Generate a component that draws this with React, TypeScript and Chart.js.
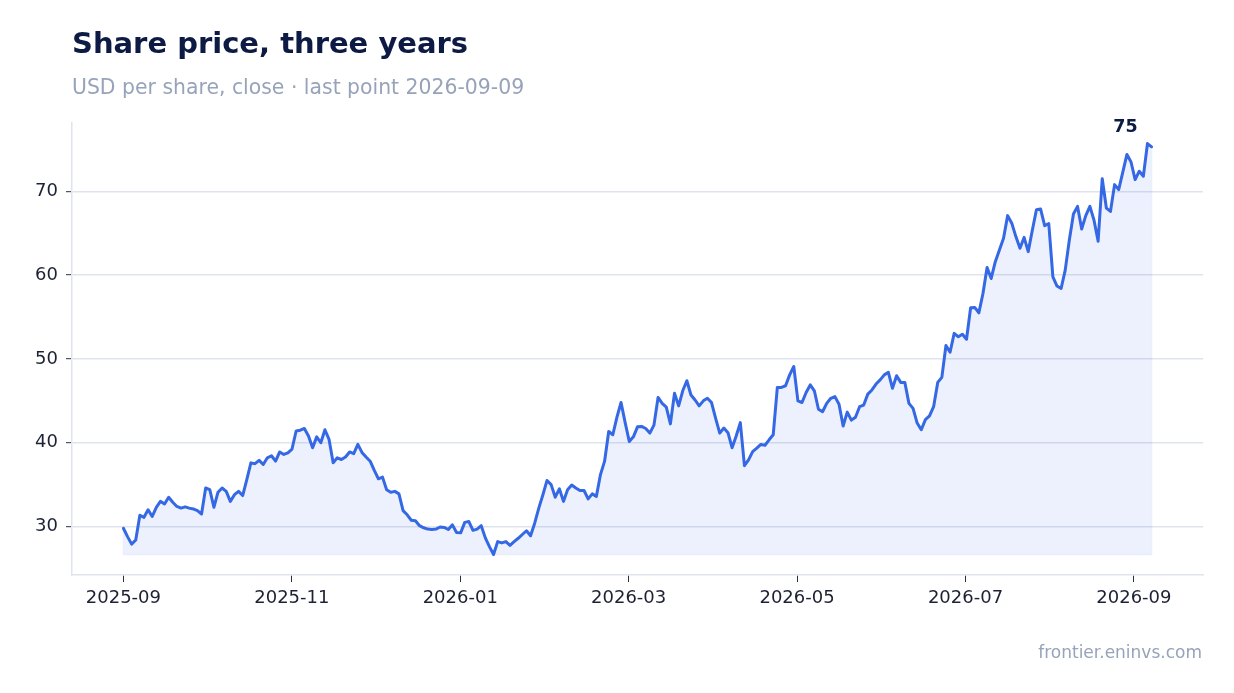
import React, { useEffect, useRef } from 'react';
import { Chart, ChartOptions, Plugin, registerables } from 'chart.js';

Chart.register(...registerables);

const TITLE = 'Share price, three years';
const SUBTITLE = 'USD per share, close · last point 2026-09-09';
const SOURCE = 'frontier.eninvs.com';

/* Подписи оси X, через каждые два месяца */
const X_TICK_LABELS = ['2025-09', '2025-11', '2026-01', '2026-03', '2026-05', '2026-07', '2026-09'];
/* Деления оси Y */
const Y_TICKS = [30, 40, 50, 60, 70];
/* Сколько месяцев от первой до последней точки (от 2025-09) */
const MONTHS_COVERED = 12.21;

/* Цены закрытия, USD за акцию */
const PRICES = [
    29.8, 28.8, 27.9, 28.4, 31.35, 31.1, 32.0, 31.2, 32.3, 33.0,
    32.7, 33.5, 32.9, 32.4, 32.2, 32.35, 32.2, 32.1, 31.9, 31.5,
    34.6, 34.4, 32.3, 34.1, 34.6, 34.2, 33.0, 33.8, 34.2, 33.7,
    35.6, 37.6, 37.5, 37.9, 37.4, 38.2, 38.45, 37.8, 38.9, 38.6,
    38.8, 39.25, 41.4, 41.5, 41.7, 40.8, 39.4, 40.7, 40.0, 41.55,
    40.4, 37.6, 38.2, 38.0, 38.3, 38.9, 38.7, 39.8, 38.85, 38.3,
    37.8, 36.7, 35.7, 35.9, 34.4, 34.1, 34.2, 33.9, 31.9, 31.4,
    30.75, 30.7, 30.1, 29.85, 29.7, 29.65, 29.7, 29.95, 29.9, 29.65,
    30.2, 29.3, 29.25, 30.5, 30.6, 29.55, 29.7, 30.1, 28.65, 27.6,
    26.67, 28.2, 28.05, 28.2, 27.75, 28.2, 28.6, 29.05, 29.5, 28.9,
    30.4, 32.2, 33.8, 35.5, 35.0, 33.5, 34.5, 33.0, 34.4, 34.96,
    34.6, 34.3, 34.3, 33.3, 33.9, 33.6, 36.2, 37.8, 41.35, 40.95,
    43.05, 44.8, 42.4, 40.15, 40.7, 41.9, 41.95, 41.7, 41.15, 42.1,
    45.4, 44.7, 44.25, 42.25, 45.9, 44.4, 46.2, 47.4, 45.7, 45.1,
    44.4, 45.0, 45.3, 44.8, 42.9, 41.15, 41.75, 41.2, 39.4, 40.8,
    42.4, 37.26, 37.95, 38.95, 39.35, 39.8, 39.7, 40.35, 40.95, 46.6,
    46.6, 46.8, 48.1, 49.1, 45.0, 44.8, 46.0, 46.9, 46.2, 44.0,
    43.7, 44.7, 45.3, 45.5, 44.6, 42.0, 43.65, 42.7, 43.05, 44.3,
    44.5, 45.8, 46.3, 47.0, 47.5, 48.1, 48.4, 46.5, 48.0, 47.2,
    47.2, 44.7, 44.1, 42.35, 41.55, 42.75, 43.2, 44.3, 47.2, 47.8,
    51.6, 50.8, 53.05, 52.65, 52.95, 52.35, 56.1, 56.15, 55.5, 57.8,
    60.9, 59.6, 61.6, 63.0, 64.4, 67.1, 66.2, 64.6, 63.2, 64.5,
    62.8, 65.35, 67.8, 67.9, 65.9, 66.15, 59.8, 58.7, 58.4, 60.6,
    64.2, 67.3, 68.2, 65.5, 67.1, 68.2, 66.55, 64.05, 71.5, 68.0,
    67.6, 70.8, 70.2, 72.3, 74.4, 73.5, 71.4, 72.4, 71.8, 75.7,
    75.3,
];

const FONT = "'DejaVu Sans', sans-serif";
const LINE = '#3568E4';
const FILL = 'rgba(53, 104, 228, 0.09)';
const GRID = '#dee3ee';
const TICK_MARK = '#2b303b';
const TICK_TEXT = '#1c2233';
const NAVY = '#0c1a44';
const MUTED = '#97a3ba';

const low = Math.min(...PRICES);
const high = Math.max(...PRICES);
const yPad = (high - low) * 0.05;

// Заголовок, подзаголовок, источник и подпись последней точки
const decorations: Plugin<'line'> = {
    id: 'decorations',
    afterDatasetsDraw(chart) {
        const { ctx } = chart;
        const pts = chart.getDatasetMeta(0).data;
        if (!pts.length) return;
        const first = pts[0];
        const last = pts[pts.length - 1];
        const base = chart.scales.y.getPixelForValue(low);

        // тонкая кромка у заливки
        ctx.save();
        ctx.strokeStyle = 'rgba(53, 104, 228, 0.07)';
        ctx.lineWidth = 1.5;
        ctx.beginPath();
        ctx.moveTo(first.x, first.y);
        ctx.lineTo(first.x, base);
        ctx.lineTo(last.x, base);
        ctx.lineTo(last.x, last.y + 3);
        ctx.stroke();

        ctx.fillStyle = NAVY;
        ctx.font = `bold 17.5px ${FONT}`;
        ctx.textAlign = 'right';
        ctx.textBaseline = 'alphabetic';
        ctx.fillText(String(Math.round(PRICES[PRICES.length - 1])), last.x - 14, last.y - 14.5);
        ctx.restore();
    },
    afterDraw(chart) {
        const { ctx } = chart;
        ctx.save();
        ctx.textBaseline = 'alphabetic';
        ctx.textAlign = 'left';
        ctx.fillStyle = NAVY;
        ctx.font = `bold 29px ${FONT}`;
        ctx.fillText(TITLE, 72, 53);
        ctx.fillStyle = MUTED;
        ctx.font = `20.4px ${FONT}`;
        ctx.fillText(SUBTITLE, 72, 94);
        ctx.textAlign = 'right';
        ctx.font = `17px ${FONT}`;
        ctx.fillText(SOURCE, 1202, 658);
        ctx.restore();
    },
};

const SharePriceChart: React.FC = () => {
    const chartRef = useRef<HTMLCanvasElement | null>(null);

    useEffect(() => {
        if (!chartRef?.current) return;

        const old = Chart.getChart(chartRef.current);
        if (old) old.destroy();

        const step = MONTHS_COVERED / (PRICES.length - 1);

        const chart = new Chart(chartRef.current, {
            type: 'line',
            data: {
                datasets: [
                    {
                        data: PRICES.map((p, i) => ({ x: i * step, y: p })),
                        borderColor: LINE,
                        backgroundColor: FILL,
                        borderWidth: 3,
                        borderJoinStyle: 'round',
                        borderCapStyle: 'round',
                        pointRadius: 0,
                        tension: 0,
                        fill: { value: low },
                    },
                ],
            },
            options: {
                animation: false,
                responsive: true,
                maintainAspectRatio: false,
                events: [],
                layout: { padding: { top: 123, right: 31, left: 0, bottom: 0 } },
                scales: {
                    x: {
                        type: 'linear',
                        min: -MONTHS_COVERED * 0.05,
                        max: MONTHS_COVERED * 1.05,
                        afterBuildTicks: (scale) => {
                            scale.ticks = X_TICK_LABELS.map((_, i) => ({ value: i * 2 }));
                        },
                        afterFit: (scale) => {
                            scale.height = 118;
                        },
                        ticks: {
                            callback: (v) => X_TICK_LABELS[Math.round(Number(v) / 2)] ?? '',
                            color: TICK_TEXT,
                            font: { family: FONT, size: 18 },
                            padding: 6,
                            maxRotation: 0,
                            autoSkip: false,
                        },
                        grid: {
                            drawOnChartArea: false,
                            tickLength: 7,
                            tickColor: TICK_MARK,
                        },
                        border: { color: GRID, width: 1.5 },
                    },
                    y: {
                        type: 'linear',
                        min: low - yPad,
                        max: high + yPad,
                        afterBuildTicks: (scale) => {
                            scale.ticks = Y_TICKS.map((v) => ({ value: v }));
                        },
                        afterFit: (scale) => {
                            scale.width = 72;
                        },
                        ticks: {
                            color: TICK_TEXT,
                            font: { family: FONT, size: 18 },
                            padding: 8,
                        },
                        grid: {
                            color: GRID,
                            lineWidth: 1.4,
                            tickLength: 6,
                            tickColor: TICK_MARK,
                            tickWidth: 1,
                        },
                        border: { color: GRID, width: 1.5 },
                    },
                },
                plugins: {
                    legend: { display: false },
                    tooltip: { enabled: false },
                    title: { display: false },
                },
            } as ChartOptions<'line'>,
            plugins: [decorations],
        });

        return () => {
            chart.destroy();
        };
    }, []);

    return <canvas ref={chartRef} />;
};

export default function App() {
    return (
        <>
            <style>{'body { margin: 0; background: #ffffff; }'}</style>
            <div style={{ position: 'relative', width: 1234, height: 693 }}>
                <SharePriceChart />
            </div>
        </>
    );
}
